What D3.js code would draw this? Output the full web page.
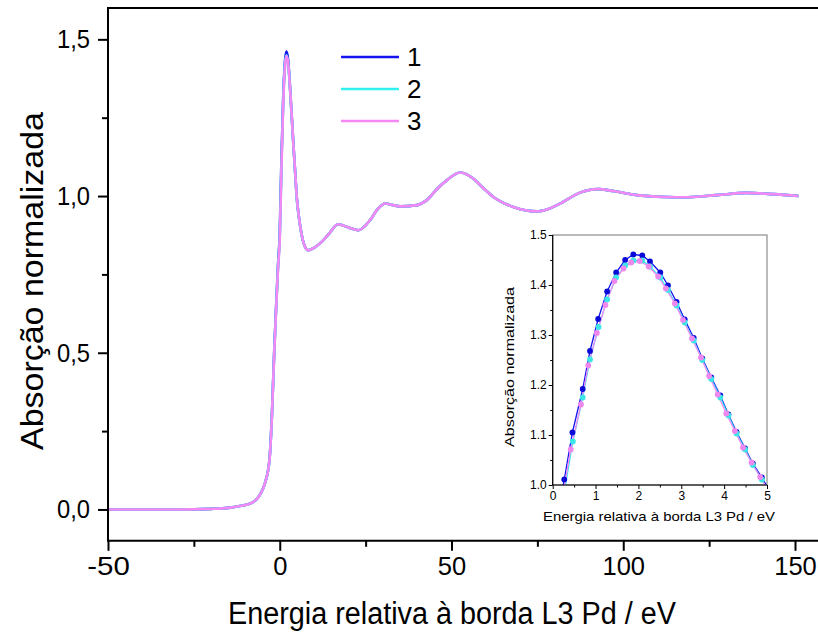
<!DOCTYPE html>
<html><head><meta charset="utf-8">
<script src="https://cdn.jsdelivr.net/npm/d3@7"></script>
<style>body{margin:0;background:#fff}svg{display:block}text{font-family:"Liberation Sans",Arial,sans-serif;fill:#000}</style>
</head><body><svg width="818" height="632"></svg>
<script>
// ---------- data ----------
const seriesNames = ["1", "2", "3"];
const seriesColors = ["#1414f0", "#30f0f0", "#f488f4"];
const markerColors = ["#0a0ad8", "#3ce6e6", "#ee88ee"];

const mainE = [-50,-30,-20,-15,-11.6,-8,-6.7,-5.5,-4.3,-3.0,-2.3,-1.6,-1.0,-0.5,0,0.5,1.0,1.5,1.9,2.3,2.7,3.1,3.5,4.0,4.5,5.0,5.5,6.5,7.5,8.3,10,11.7,14,17,20,22.9,26.3,28.5,30.7,33,35,39.9,42.8,46,48.6,52.5,56.3,59,62.2,68,74.8,78,81.6,87.4,92.7,97.1,103.9,112.6,117.5,127.2,135.9,143.7,151];
const main1 = [0,0,0.002,0.005,0.011,0.022,0.033,0.052,0.084,0.158,0.296,0.508,0.66,0.78,0.88,1.12,1.31,1.427,1.461,1.446,1.398,1.327,1.253,1.160,1.073,0.99,0.94,0.87,0.835,0.827,0.835,0.849,0.875,0.910,0.900,0.891,0.923,0.958,0.976,0.971,0.967,0.971,0.987,1.025,1.050,1.075,1.056,1.028,0.997,0.965,0.951,0.958,0.976,1.011,1.022,1.016,1.003,0.997,0.996,1.003,1.010,1.006,1.000];
const main2 = [0,0,0.002,0.005,0.011,0.022,0.033,0.052,0.084,0.157,0.294,0.505,0.655,0.775,0.87,1.10,1.30,1.417,1.449,1.436,1.390,1.322,1.250,1.157,1.071,0.985,0.938,0.869,0.835,0.827,0.835,0.849,0.875,0.910,0.900,0.891,0.923,0.958,0.976,0.971,0.967,0.971,0.987,1.025,1.050,1.075,1.056,1.028,0.997,0.965,0.951,0.958,0.976,1.011,1.022,1.016,1.003,0.997,0.996,1.003,1.010,1.006,1.000];
const main3 = [0,0,0.002,0.005,0.011,0.022,0.033,0.052,0.084,0.156,0.292,0.500,0.65,0.77,0.86,1.09,1.29,1.410,1.447,1.436,1.391,1.325,1.254,1.160,1.074,0.99,0.94,0.87,0.835,0.827,0.835,0.849,0.875,0.910,0.900,0.891,0.923,0.958,0.976,0.971,0.967,0.971,0.987,1.025,1.050,1.075,1.056,1.028,0.997,0.965,0.951,0.958,0.976,1.011,1.022,1.016,1.003,0.997,0.996,1.003,1.010,1.006,1.000];

const insetE1 = [0.10,0.27,0.46,0.70,0.87,1.06,1.27,1.48,1.69,1.88,2.09,2.27,2.51,2.69,2.89,3.08,3.29,3.49,3.70,3.91,4.10,4.29,4.49,4.67,4.88,5.05];
const insetV1 = [0.93,1.011,1.105,1.192,1.268,1.332,1.387,1.425,1.450,1.461,1.459,1.447,1.425,1.399,1.366,1.331,1.294,1.253,1.215,1.179,1.141,1.106,1.073,1.043,1.015,0.99];
const insetE2 = [0.28,0.47,0.70,0.87,1.07,1.27,1.48,1.69,1.88,2.09,2.27,2.51,2.69,2.89,3.08,3.29,3.49,3.70,3.91,4.10,4.29,4.49,4.67,4.88,5.05];
const insetV2 = [0.99,1.087,1.175,1.251,1.316,1.371,1.415,1.439,1.449,1.449,1.437,1.415,1.390,1.359,1.325,1.289,1.250,1.212,1.175,1.139,1.103,1.071,1.040,1.011,0.985];
const insetE3 = [0.24,0.42,0.66,0.83,1.03,1.23,1.44,1.65,1.83,2.03,2.24,2.46,2.64,2.85,3.04,3.25,3.46,3.65,3.85,4.05,4.25,4.44,4.64,4.84,5.02];
const insetV3 = [0.98,1.071,1.161,1.239,1.304,1.360,1.408,1.433,1.445,1.448,1.437,1.417,1.393,1.363,1.330,1.293,1.255,1.218,1.181,1.143,1.108,1.075,1.045,1.016,0.99];

const mainXTicks = [-50, 0, 50, 100, 150];
const mainXMinor = [-25, 25, 75, 125];
const mainYTicks = [0, 0.5, 1.0, 1.5];
const mainYMinor = [0.25, 0.75, 1.25];
const insetXTicks = [0, 1, 2, 3, 4, 5];
const insetXMinor = [0.5, 1.5, 2.5, 3.5, 4.5];
const insetYTicks = [1.0, 1.1, 1.2, 1.3, 1.4, 1.5];
const insetYMinor = [1.05, 1.15, 1.25, 1.35, 1.45];

const mainXTitle = "Energia relativa à borda L3 Pd / eV";
const mainYTitle = "Absorção normalizada";
const insetXTitle = "Energia relativa à borda L3 Pd  / eV";
const insetYTitle = "Absorção normalizada";

// ---------- drawing ----------
const svg = d3.select("svg");
const x = d3.scaleLinear().domain([-50, 150]).range([108, 795]);
const y = d3.scaleLinear().domain([-0.1, 1.6]).range([540.8, 8]);
const comma = d => d3.format(".1f")(d).replace(".", ",");

svg.append("clipPath").attr("id","mc").append("rect").attr("x",108).attr("y",8).attr("width",710).attr("height",533);

const mainSeries = [main1, main2, main3];
const line = d3.line().curve(d3.curveMonotoneX);
mainSeries.forEach((vals, i) => {
  svg.append("path").attr("clip-path","url(#mc)")
    .attr("d", line(mainE.map((e, k) => [x(e), y(vals[k])])))
    .attr("fill","none").attr("stroke", seriesColors[i]).attr("stroke-width", 2.6);
});

// main axes
const gx = svg.append("g").attr("transform","translate(0,540.8)");
gx.call(d3.axisBottom(x).tickValues(mainXTicks).tickSize(10).tickPadding(6).tickFormat(d => String(d)));
gx.append("g").call(d3.axisBottom(x).tickValues(mainXMinor).tickSize(6).tickFormat(""));
gx.selectAll(".domain").remove();
svg.append("line").attr("x1",108).attr("x2",818).attr("y1",540.8).attr("y2",540.8).attr("stroke","#000").attr("stroke-width",2);
svg.append("line").attr("x1",108).attr("x2",818).attr("y1",8).attr("y2",8).attr("stroke","#000").attr("stroke-width",2);
const gy = svg.append("g").attr("transform","translate(108,0)");
gy.call(d3.axisLeft(y).tickValues(mainYTicks).tickSize(10).tickPadding(8).tickFormat(comma));
gy.append("g").call(d3.axisLeft(y).tickValues(mainYMinor).tickSize(6).tickFormat(""));
gy.selectAll(".domain").remove();
svg.append("line").attr("x1",108).attr("x2",108).attr("y1",7).attr("y2",541.8).attr("stroke","#000").attr("stroke-width",2);
[gx, gy].forEach(g => {
  g.selectAll("line").attr("stroke","#000").attr("stroke-width",2);
  g.selectAll("text").style("font-size","26px").attr("fill","#000");
});
gx.selectAll(".tick text").each(function() {
  const t = d3.select(this); const n = t.text().length;
  t.attr("textLength", n * 14.2).attr("lengthAdjust","spacingAndGlyphs");
});
gy.selectAll(".tick text").attr("textLength", 33).attr("lengthAdjust","spacingAndGlyphs");

svg.append("text").attr("x", 452).attr("y", 624).attr("text-anchor","middle")
  .attr("textLength", 448).attr("lengthAdjust","spacingAndGlyphs")
  .style("font-size","31px").text(mainXTitle);
svg.append("text").attr("transform","translate(43,281) rotate(-90)").attr("text-anchor","middle")
  .attr("textLength", 338).attr("lengthAdjust","spacingAndGlyphs")
  .style("font-size","31px").text(mainYTitle);

// legend
seriesNames.forEach((n, i) => {
  const ly = 57 + i * 32;
  svg.append("line").attr("x1",341).attr("x2",399).attr("y1",ly).attr("y2",ly)
    .attr("stroke", seriesColors[i]).attr("stroke-width",2.6);
  svg.append("text").attr("x",407).attr("y",ly).attr("dy","0.36em").style("font-size","26px").text(n);
});

// inset
const ix = d3.scaleLinear().domain([0, 5]).range([552.7, 767]);
const iy = d3.scaleLinear().domain([1.0, 1.5]).range([485, 235]);
svg.append("clipPath").attr("id","ic").append("rect").attr("x",552.7).attr("y",235).attr("width",214.3).attr("height",250);
svg.append("rect").attr("x",552.7).attr("y",235).attr("width",214.3).attr("height",250)
  .attr("fill","#fff").attr("stroke","#777").attr("stroke-width",1);
const inset = [[insetE1, insetV1], [insetE2, insetV2], [insetE3, insetV3]];
const ig = svg.append("g").attr("clip-path","url(#ic)");
const iline = d3.line();
inset.forEach(([es, vs], i) => {
  ig.append("path").attr("d", iline(es.map((e, k) => [ix(e), iy(vs[k])])))
    .attr("fill","none").attr("stroke", seriesColors[i]).attr("stroke-width", 1.3);
});
inset.forEach(([es, vs], i) => {
  ig.selectAll(null).data(es.map((e, k) => [e, vs[k]])).enter().append("circle")
    .attr("cx", d => ix(d[0])).attr("cy", d => iy(d[1])).attr("r", 2.9)
    .attr("fill", markerColors[i]);
});
const igx = svg.append("g").attr("transform","translate(0,485)");
igx.call(d3.axisBottom(ix).tickValues(insetXTicks).tickSize(4).tickPadding(2).tickFormat(d3.format("d")));
igx.append("g").call(d3.axisBottom(ix).tickValues(insetXMinor).tickSize(2.5).tickFormat(""));
const igy = svg.append("g").attr("transform","translate(552.7,0)");
igy.call(d3.axisLeft(iy).tickValues(insetYTicks).tickSize(4).tickPadding(2).tickFormat(d3.format(".1f")));
igy.append("g").call(d3.axisLeft(iy).tickValues(insetYMinor).tickSize(2.5).tickFormat(""));
[igx, igy].forEach(g => {
  g.selectAll(".domain").remove();
  g.selectAll("line").attr("stroke","#000").attr("stroke-width",1);
  g.selectAll("text").style("font-size","12px").attr("fill","#000");
});
svg.append("line").attr("x1",552.7).attr("x2",767).attr("y1",485).attr("y2",485).attr("stroke","#000").attr("stroke-width",1.2);
svg.append("line").attr("x1",552.7).attr("x2",552.7).attr("y1",235).attr("y2",485).attr("stroke","#000").attr("stroke-width",1.2);
svg.append("text").attr("x", 659).attr("y", 521).attr("text-anchor","middle")
  .attr("textLength", 232).attr("lengthAdjust","spacingAndGlyphs")
  .style("font-size","13px").text(insetXTitle);
svg.append("text").attr("transform","translate(514,367) rotate(-90)").attr("text-anchor","middle")
  .attr("textLength", 160).attr("lengthAdjust","spacingAndGlyphs")
  .style("font-size","12px").text(insetYTitle);
</script></body></html>
